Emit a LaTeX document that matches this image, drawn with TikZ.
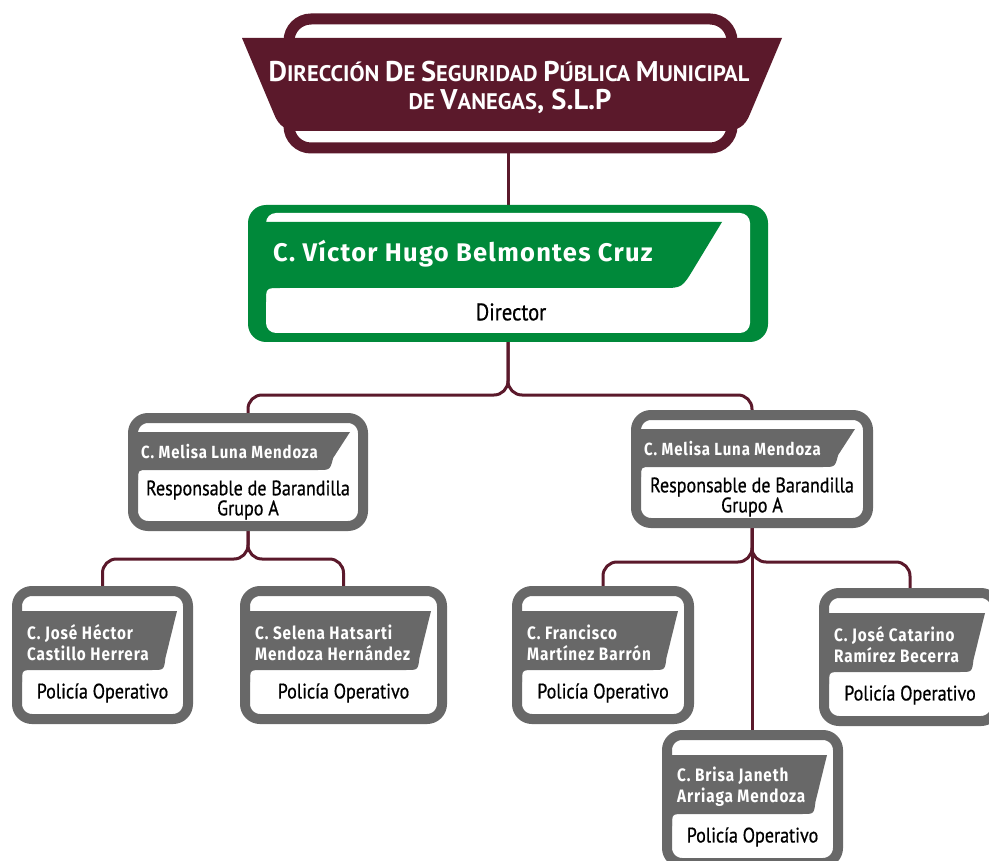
\documentclass[tikz,border=0pt]{standalone}
\usepackage{fontspec}
\setmainfont{PT Sans}
\newfontfamily\namefontA{Fira Sans}[LetterSpace=5]
\newfontfamily\namefontB{Fira Sans}[LetterSpace=5,FakeStretch=0.85]
\newfontfamily\rolefont{PT Sans}[FakeStretch=0.86,FakeBold=0.6]
\newfontfamily\hdrfont{PT Sans}
\usetikzlibrary{backgrounds,calc}
\definecolor{maroon}{RGB}{91,25,43}
\definecolor{vgreen}{RGB}{0,137,58}
\definecolor{mgrey}{RGB}{104,104,104}
\newcommand\sC[2]{{\fontsize{28.5}{28}\selectfont #1}{\fontsize{22.5}{22}\selectfont #2}}
\newcommand\band[8]{%
  \fill[#1] (#2,#3) -- (#4,#3) -- ({#4-#6+#6*#7/(#5-#3)},{#5-#7}) .. controls ({#4-#6},#5) .. ({#4-#6-#7},#5)
    -- ({#2+#8},#5) .. controls (#2,#5) .. (#2,{#5+#8}) -- cycle;}
% level-3 box: name, X, Y, W, names
\newcommand\pbox[5]{%
  \node[gframe, minimum width={#4-10}, minimum height=128] (#1) at ({#2+#4/2},{#3+69}) {};
  \band{mgrey}{#2+10}{#3+25}{#2+#4-16}{#3+84}{13}{12}{12}
  \node[nm3, anchor=west] (#1n) at ({#2+15},{#3+56.5}) {#5};
  \node[role3] (#1r) at ({#2+#4/2},{#3+107}) {Policía Operativo};}
% level-2 box
\newcommand\midbox[4]{%
  \node[gframe, minimum width={#4-10}, minimum height=108] (#1) at ({#2+#4/2},{#3+59}) {};
  \band{mgrey}{#2+10}{#3+19}{#2+#4-18}{#3+57}{20}{12}{10}
  \node[nm2, anchor=west] (#1n) at ({#2+13},{#3+39}) {C. Melisa Luna Mendoza};
  \node[role2] (#1r) at ({#2+#4/2},{#3+87}) {Responsable de Barandilla\\Grupo A};}
\tikzset{
  conn/.style={draw=maroon, line width=3pt, rounded corners=14pt},
  gframe/.style={draw=mgrey, line width=10pt, fill=white, rounded corners=15pt, inner sep=0pt},
  nm3/.style={text=white, align=left, inner sep=0pt, font=\namefontB\bfseries\fontsize{18}{21}\selectfont},
  nm2/.style={text=white, inner sep=0pt, font=\namefontB\bfseries\fontsize{17.6}{20}\selectfont},
  nm1/.style={text=white, inner sep=0pt, font=\namefontA\bfseries\fontsize{25.5}{28}\selectfont},
  role3/.style={text=black, inner sep=0pt, font=\rolefont\fontsize{21}{21}\selectfont},
  role2/.style={text=black, inner sep=0pt, align=center, font=\rolefont\fontsize{21}{20}\selectfont},
  role1/.style={text=black, inner sep=0pt, font=\rolefont\fontsize{24}{24}\selectfont},
  hdrtext/.style={text=white, inner sep=0pt, font=\hdrfont\bfseries\fontsize{22.5}{22}\selectfont},
}
\begin{document}
\begin{tikzpicture}[x=1pt,y=-1pt]
\clip (0,0) rectangle (989,861);
% ---------- header ----------
\node[draw=maroon, line width=11pt, rounded corners=22pt, minimum width=443, minimum height=129, inner sep=0pt] (hdr) at (510.5,83.5) {};
\fill[maroon] (242,38) -- (782,38) -- (750,114) .. controls (745,127) and (737,131) .. (724,131)
  -- (300,131) .. controls (287,131) and (279,127) .. (274,114) -- cycle;
\node[hdrtext, anchor=base] (h1) at (509,82) {\sC{D}{IRECCIÓN} \sC{D}{E} \sC{S}{EGURIDAD} \sC{P}{ÚBLICA} \sC{M}{UNICIPAL}};
\node[hdrtext, anchor=base] (h2) at (510,110) {\sC{}{DE} \sC{V}{ANEGAS}\sC{, S.L.P}{}};
% ---------- director ----------
\node[fill=vgreen, rounded corners=18pt, minimum width=520, minimum height=137, inner sep=0pt] (dir) at (508,273.5) {};
\fill[white, rounded corners=10pt] (266,213) rectangle (750,333);
\band{vgreen}{266}{222}{722}{288}{40}{20}{14}
\node[nm1, anchor=west] (dirn) at (273,254) {C. Víctor Hugo Belmontes Cruz};
\node[role1] (dirr) at (511,312) {Director};
% ---------- level 2 ----------
\midbox{lb}{128}{413}{240}
\midbox{rb}{631}{410}{242}
% ---------- level 3 ----------
\pbox{p1}{12}{586}{181}{C. José Héctor\\Castillo Herrera}
\pbox{p2}{240}{586}{207}{C. Selena Hatsarti\\Mendoza Hernández}
\pbox{p3}{512}{586}{182}{C. Francisco\\Martínez Barrón}
\pbox{p4}{819}{588}{182}{C. José Catarino\\Ramírez Becerra}
\pbox{p5}{662}{730}{181}{C. Brisa Janeth\\Arriaga Mendoza}
% ---------- connectors ----------
\coordinate (j1) at (508,395);
\coordinate (j2) at (248,559);
\coordinate (j3) at (752,562);
\begin{pgfonlayer}{background}
\fill[white] (0,0) rectangle (989,861);
\draw[conn, rounded corners=0pt] (dir.north |- hdr.south) -- (dir.north);
\draw[conn] (dir.south) |- (lb.north |- j1) -- (lb.north);
\draw[conn] (dir.south) |- (rb.north |- j1) -- (rb.north);
\draw[conn] (lb.south) |- (p1.north |- j2) -- (p1.north);
\draw[conn] (lb.south) |- (p2.north |- j2) -- (p2.north);
\draw[conn] (rb.south) |- (p3.north |- j3) -- (p3.north);
\draw[conn] (rb.south) |- (p4.north |- j3) -- (p4.north);
\draw[conn, rounded corners=0pt] (rb.south) -- (rb.south |- p5.north);
\end{pgfonlayer}
\end{tikzpicture}
\end{document}
